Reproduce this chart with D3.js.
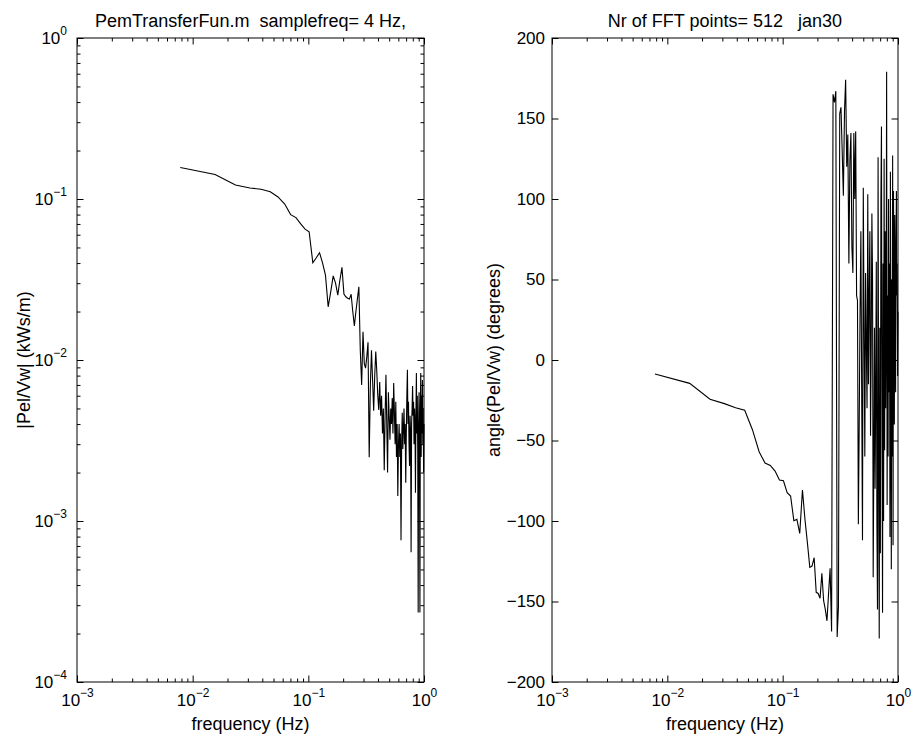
<!DOCTYPE html>
<html>
<head>
<meta charset="utf-8">
<script src="https://cdn.jsdelivr.net/npm/d3@7/dist/d3.min.js"></script>
<style>
  body { margin: 0; background: #fff; }
  svg text { font-family: "Liberation Sans", Arial, Helvetica, sans-serif; font-size: 18px; fill: #000; white-space: pre; }
  svg .tick text { font-size: 17px; }
  svg .tick text tspan.exp { font-size: 12px; }
</style>
</head>
<body>
<svg id="chart" width="913" height="735"></svg>
<script>
// frequency bins (Hz), 4 Hz sample rate, 512 point FFT
const freqHz = [
  0.0078125, 0.015625, 0.0234375, 0.03125, 0.0390625, 0.046875, 0.0546875, 0.0625,
  0.0703125, 0.078125, 0.0859375, 0.09375, 0.1015625, 0.109375, 0.1171875, 0.125,
  0.1328125, 0.140625, 0.1484375, 0.15625, 0.1640625, 0.171875, 0.1796875, 0.1875,
  0.1953125, 0.203125, 0.2109375, 0.21875, 0.2265625, 0.234375, 0.2421875, 0.25,
  0.2578125, 0.265625, 0.2734375, 0.28125, 0.2890625, 0.296875, 0.3046875, 0.3125,
  0.3203125, 0.328125, 0.3359375, 0.34375, 0.3515625, 0.359375, 0.3671875, 0.375,
  0.3828125, 0.390625, 0.3984375, 0.40625, 0.4140625, 0.421875, 0.4296875, 0.4375,
  0.4453125, 0.453125, 0.4609375, 0.46875, 0.4765625, 0.484375, 0.4921875, 0.5,
  0.5078125, 0.515625, 0.5234375, 0.53125, 0.5390625, 0.546875, 0.5546875, 0.5625,
  0.5703125, 0.578125, 0.5859375, 0.59375, 0.6015625, 0.609375, 0.6171875, 0.625,
  0.6328125, 0.640625, 0.6484375, 0.65625, 0.6640625, 0.671875, 0.6796875, 0.6875,
  0.6953125, 0.703125, 0.7109375, 0.71875, 0.7265625, 0.734375, 0.7421875, 0.75,
  0.7578125, 0.765625, 0.7734375, 0.78125, 0.7890625, 0.796875, 0.8046875, 0.8125,
  0.8203125, 0.828125, 0.8359375, 0.84375, 0.8515625, 0.859375, 0.8671875, 0.875,
  0.8828125, 0.890625, 0.8984375, 0.90625, 0.9140625, 0.921875, 0.9296875, 0.9375,
  0.9453125, 0.953125, 0.9609375, 0.96875, 0.9765625, 0.984375, 0.9921875, 1
];

// |Pel/Vw| (kWs/m)
const magnitude = [
  0.157, 0.142, 0.122, 0.117, 0.115, 0.111, 0.103, 0.093, 0.080, 0.0766,
  0.070, 0.065, 0.0626, 0.0402, 0.0432, 0.0464, 0.040, 0.0337, 0.0214, 0.0266,
  0.0333, 0.030, 0.0253, 0.0314, 0.0376, 0.0257, 0.0247, 0.0242, 0.0239, 0.0256,
  0.020, 0.0163, 0.020, 0.024, 0.0285, 0.0115, 0.0070, 0.015, 0.0095, 0.0089,
  0.0105, 0.0129, 0.00249, 0.0070, 0.0115, 0.0075, 0.00484, 0.0080, 0.0113, 0.0085,
  0.0060, 0.0049, 0.0073, 0.0045, 0.0060, 0.0035, 0.0050, 0.00207, 0.0045, 0.0081,
  0.0040, 0.0020, 0.0063, 0.0045, 0.0032, 0.0050, 0.0040, 0.0058, 0.0035, 0.0072,
  0.0048, 0.0030, 0.0055, 0.0025, 0.0040, 0.00143, 0.0030, 0.0040, 0.0025, 0.0035,
  0.00076, 0.0030, 0.0047, 0.0028, 0.0038, 0.0050, 0.0030, 0.0040, 0.00173, 0.0035,
  0.0060, 0.0087, 0.0040, 0.0055, 0.0030, 0.0022, 0.0045, 0.0035, 0.00064, 0.0040,
  0.0050, 0.0069, 0.0045, 0.0055, 0.0030, 0.0050, 0.0040, 0.0015, 0.0045, 0.0083,
  0.0035, 0.0060, 0.0028, 0.00027, 0.0040, 0.0063, 0.0030, 0.00027, 0.0050, 0.0083,
  0.0025, 0.0060, 0.0035, 0.0075, 0.0030, 0.0050, 0.0020, 0.0040
];

// angle(Pel/Vw) (degrees)
const phaseDeg = [
  -8.7, -14.5, -24.4, -27.1, -29.6, -31.2, -43.3, -57, -64, -65.5,
  -69, -74.5, -75, -82.4, -84.5, -99.8, -99, -107.7, -80.7, -99.4,
  -113.9, -128.8, -128, -122.8, -144.3, -145, -148, -132.5, -149.5, -155,
  -162, -145, -129.4, -168.7, 165, 160, 167, -172, -153, 153,
  157, 130, 102, 155, 174, 120, 140, 60, 124, 141,
  70, 54, 141, 100, 142, 40, 37, -102, -40, 30,
  80, -20, -112, 107, 20, -60, 54, 10, -30, 103,
  -15, 40, 80, -47, 10, 91, 50, -135, -60, 20,
  -80, -20, 61, -100, -155, 126, -60, -173, 20, -120,
  100, 145, -40, -157, 60, -100, 125, -56, 80, -30,
  20, 179, -90, 40, -60, 100, -20, 60, -110, 117,
  0, -130, 50, -60, 127, -115, 105, 42, -40, 90,
  50, -20, 70, 105, 40, 60, -10, 30
];

const freqDecades = [1e-3, 1e-2, 1e-1, 1];
const magDecades = [1e-4, 1e-3, 1e-2, 1e-1, 1];
const phaseTicks = [-200, -150, -100, -50, 0, 50, 100, 150, 200];

const titles = ["PemTransferFun.m  samplefreq= 4 Hz,", "Nr of FFT points= 512   jan30"];
const yLabels = ["|Pel/Vw| (kWs/m)", "angle(Pel/Vw) (degrees)"];
const xLabel = "frequency (Hz)";

const svg = d3.select("#chart");
const plotTop = 38, plotBottom = 682;
const majorLen = 6.5, minorLen = 3.5;

function minorsFor(decades) {
  const out = [];
  decades.slice(0, -1).forEach(d => { for (let m = 2; m <= 9; m++) out.push(d * m); });
  return out;
}

const sup = v => String(Math.round(Math.log10(v))).replace("-", "\u2212");

function powerLabels(g) {
  g.selectAll(".tick text").each(function(d) {
    const t = d3.select(this).text(null);
    t.append("tspan").text("10");
    t.append("tspan").attr("class", "exp").attr("dy", -9).text(sup(d));
  });
}

function clean(g) {
  g.select(".domain").remove();
  g.selectAll(".tick line").attr("stroke", "#000").attr("stroke-width", 1);
  g.selectAll(".tick text").attr("font-size", null).attr("font-family", null);
}

function drawPanel(left, right, y, yMajor, yMinor, yIsLog, values, title, ylabel, ylabelX) {
  const x = d3.scaleLog().domain([1e-3, 1]).range([left, right]);
  const g = svg.append("g");

  // x axes: bottom with labels, top ticks only
  g.append("g").attr("transform", `translate(0,${plotBottom})`)
    .call(d3.axisBottom(x).tickValues(minorsFor(freqDecades)).tickSize(-minorLen).tickFormat(""))
    .call(clean);
  g.append("g").attr("transform", `translate(0,${plotBottom})`)
    .call(d3.axisBottom(x).tickValues(freqDecades).tickSize(-majorLen).tickPadding(12))
    .call(clean)
    .call(powerLabels);
  g.append("g").attr("transform", `translate(0,${plotTop})`)
    .call(d3.axisTop(x).tickValues(minorsFor(freqDecades)).tickSize(-minorLen).tickFormat(""))
    .call(clean);
  g.append("g").attr("transform", `translate(0,${plotTop})`)
    .call(d3.axisTop(x).tickValues(freqDecades).tickSize(-majorLen).tickFormat(""))
    .call(clean);

  // y axes
  if (yMinor) {
    g.append("g").attr("transform", `translate(${left},0)`)
      .call(d3.axisLeft(y).tickValues(yMinor).tickSize(-minorLen).tickFormat(""))
      .call(clean);
    g.append("g").attr("transform", `translate(${right},0)`)
      .call(d3.axisRight(y).tickValues(yMinor).tickSize(-minorLen).tickFormat(""))
      .call(clean);
  }
  const yl = g.append("g").attr("transform", `translate(${left},0)`)
    .call(d3.axisLeft(y).tickValues(yMajor).tickSize(-majorLen).tickPadding(yIsLog ? 10 : 7)
      .tickFormat(yIsLog ? null : (d => String(d).replace("-", "\u2212"))))
    .call(clean);
  if (yIsLog) yl.call(powerLabels);
  g.append("g").attr("transform", `translate(${right},0)`)
    .call(d3.axisRight(y).tickValues(yMajor).tickSize(-majorLen).tickFormat(""))
    .call(clean);

  // box
  g.append("rect")
    .attr("x", left).attr("y", plotTop)
    .attr("width", right - left).attr("height", plotBottom - plotTop)
    .attr("fill", "none").attr("stroke", "#000").attr("stroke-width", 1);

  // data line
  const line = d3.line()
    .x((d, i) => x(freqHz[i]))
    .y(d => y(d));
  g.append("path")
    .datum(values)
    .attr("d", line)
    .attr("fill", "none")
    .attr("stroke", "#000")
    .attr("stroke-width", 1.1);

  // texts
  g.append("text")
    .attr("x", (left + right) / 2).attr("y", 27)
    .attr("text-anchor", "middle")
    .text(title);
  g.append("text")
    .attr("x", (left + right) / 2).attr("y", 730)
    .attr("text-anchor", "middle")
    .text(xLabel);
  g.append("text")
    .attr("transform", `translate(${ylabelX},${(plotTop + plotBottom) / 2}) rotate(-90)`)
    .attr("text-anchor", "middle")
    .text(ylabel);
}

const yMag = d3.scaleLog().domain([1e-4, 1]).range([plotBottom, plotTop]);
const yPhase = d3.scaleLinear().domain([-200, 200]).range([plotBottom, plotTop]);

drawPanel(77, 424, yMag, magDecades, minorsFor(magDecades), true, magnitude, titles[0], yLabels[0], 30);
drawPanel(552, 898, yPhase, phaseTicks, null, false, phaseDeg, titles[1], yLabels[1], 500);
</script>
</body>
</html>
